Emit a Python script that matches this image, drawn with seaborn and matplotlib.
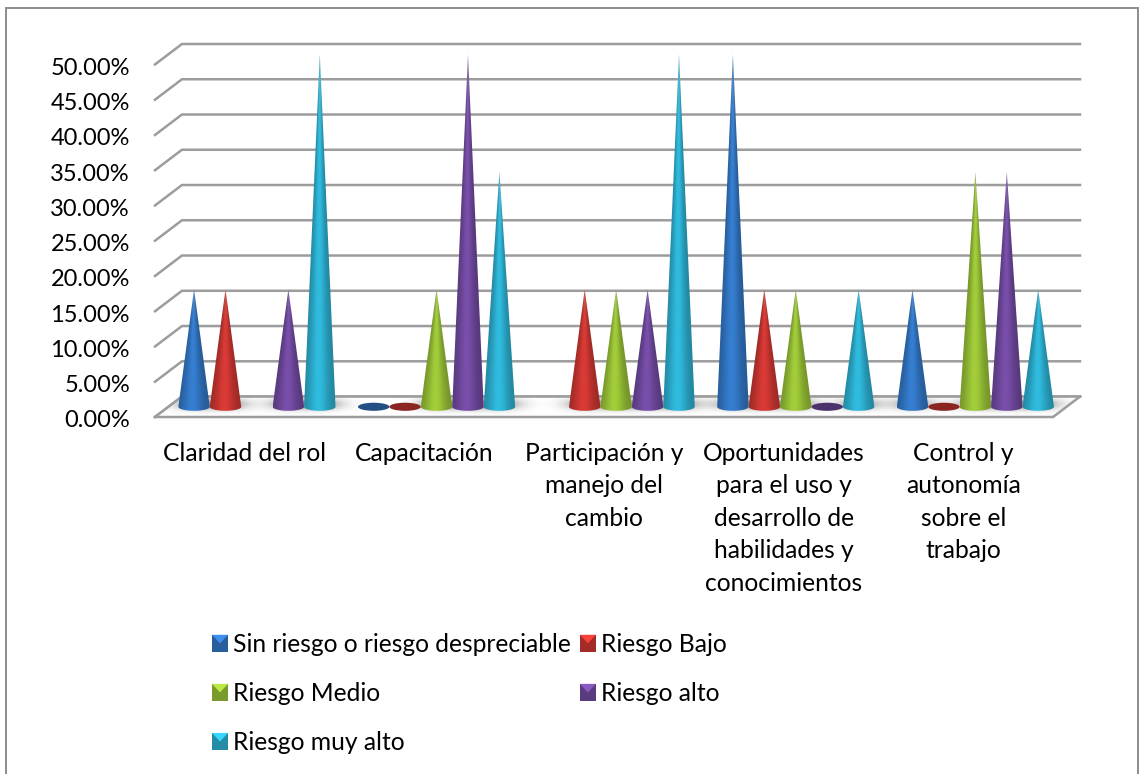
import numpy as np
import pandas as pd
import matplotlib
matplotlib.use("Agg")
import matplotlib.pyplot as plt
import seaborn as sns
from matplotlib.legend_handler import HandlerBase
from matplotlib.patches import Ellipse, Polygon, Rectangle
from matplotlib.transforms import ScaledTranslation

categories = [
    "Claridad del rol",
    "Capacitación",
    "Participación y\nmanejo del\ncambio",
    "Oportunidades\npara el uso y\ndesarrollo de\nhabilidades y\nconocimientos",
    "Control y\nautonomía\nsobre el\ntrabajo",
]
series_names = [
    "Sin riesgo o riesgo despreciable",
    "Riesgo Bajo",
    "Riesgo Medio",
    "Riesgo alto",
    "Riesgo muy alto",
]
sin_riesgo = [16.67, 0, np.nan, 50, 16.67]
riesgo_bajo = [16.67, 0, 16.67, 16.67, 0]
riesgo_medio = [np.nan, 16.67, 16.67, 16.67, 33.33]
riesgo_alto = [16.67, 50, 16.67, 0, 33.33]
riesgo_muy_alto = [50, 33.33, 50, 16.67, 16.67]
colors = ["#2f6fb8", "#c0332f", "#8fb533", "#6a4596", "#2aa5c4"]

DEPTH_X = 0.15
DEPTH_Y = 2.9
GRID = "#9c9c9c"

plt.rcParams["font.family"] = ["Lato", "DejaVu Sans"]

df = pd.DataFrame({
    "categoria": np.repeat(categories, 5),
    "serie": [s for _ in categories for s in series_names],
    "valor": np.array([sin_riesgo, riesgo_bajo, riesgo_medio, riesgo_alto, riesgo_muy_alto]).T.ravel(),
})

fig = plt.figure(figsize=(11.39, 7.74), dpi=100)
ax = fig.add_axes([155 / 1139, 1 - 417 / 774, (1080 - 155) / 1139, (417 - 44) / 774])
sns.barplot(data=df, x="categoria", y="valor", hue="serie", order=categories,
            hue_order=series_names, width=0.875, gap=0, palette=colors,
            legend=False, errorbar=None, ax=ax)

bars = []
for color, container in zip(colors, ax.containers):
    for bar in container:
        if not np.isnan(bar.get_height()):
            bars.append((bar.get_x() + bar.get_width() / 2, bar.get_width() / 2, bar.get_height(), color))
        bar.set_visible(False)

x0, x1 = -0.5, 4.5
ax.set_xlim(x0, x1 + DEPTH_X)
ax.set_ylim(0, 50 + DEPTH_Y)
sns.despine(ax=ax, left=True, bottom=True)
ax.set_xlabel("")
ax.set_ylabel("")
ax.set_yticks(np.arange(0, 51, 5))
ax.set_yticklabels([f"{t:.2f}%" for t in np.arange(0, 51, 5)])
ax.set_xticks(range(len(categories)))
ax.set_xticklabels(categories, linespacing=1.5)
ax.tick_params(axis="y", length=0, pad=18, labelsize=17)
ax.tick_params(axis="x", length=0, pad=18, labelsize=17.7)
for lab in ax.get_yticklabels():
    lab.set_transform(lab.get_transform() + ScaledTranslation(0, -2 / 100, fig.dpi_scale_trans))

# back wall and side grid lines
for t in np.arange(0, 51, 5):
    ax.plot([x0, x0 + DEPTH_X, x1 + DEPTH_X], [t, t + DEPTH_Y, t + DEPTH_Y],
            color=GRID, lw=1.8, clip_on=False, zorder=1, solid_joinstyle="miter")

# floor with the soft shadow of the cones
fx = np.linspace(x0, x1 + DEPTH_X, 900)
fy = np.linspace(0, DEPTH_Y, 40)
gx, gy = np.meshgrid(fx, fy)
shade = np.zeros_like(gx)
for xc, half, h, _ in bars:
    if h > 0:
        shade += np.exp(-((gx - xc - DEPTH_X / 2) / 0.12) ** 2 - ((gy - DEPTH_Y * 0.62) / 0.8) ** 2)
shade = np.clip(shade, 0, 1) * 0.36
floor_img = ax.imshow(1 - shade, extent=(fx[0], fx[-1], 0, DEPTH_Y), origin="lower", cmap="gray",
                      vmin=0, vmax=1, aspect="auto", zorder=2, interpolation="bilinear")
floor = Polygon([(x0, 0), (x1, 0), (x1 + DEPTH_X, DEPTH_Y), (x0 + DEPTH_X, DEPTH_Y)],
                transform=ax.transData, fc="none", ec="none")
ax.add_patch(floor)
floor_img.set_clip_path(floor)
ax.plot([x0, x1, x1 + DEPTH_X], [0, 0, DEPTH_Y], color=GRID, lw=1.8, clip_on=False, zorder=3,
        solid_joinstyle="miter")
ax.plot([x0, x0 + DEPTH_X, x1 + DEPTH_X], [0, DEPTH_Y, DEPTH_Y], color=GRID, lw=1.8, clip_on=False, zorder=3,
        solid_joinstyle="miter")


def draw_cone(xc, half, h, color, z):
    xc = xc + DEPTH_X * 0.45
    base = DEPTH_Y / 2
    rgb = np.array(matplotlib.colors.to_rgb(color))
    if h == 0:
        ax.add_patch(Ellipse((xc, base), 2 * half, 1.15, fc=rgb * 0.72, ec="none", zorder=z))
        return
    bottom = base - 0.57
    top = base + h
    xs = np.linspace(xc - half, xc + half, 60)
    ys = np.linspace(bottom, top, 240)
    gx, gy = np.meshgrid(xs, ys)
    widths = np.clip(half * (top - gy) / h, half * 0.004, half)
    u = (gx - xc) / widths
    # dark rim, brighter left of centre, a bit lighter towards the tip
    light = 0.8 + 0.34 * np.exp(-((u + 0.1) / 0.65) ** 2)
    tip = np.clip((gy - base) / h, 0, 1)
    img = np.clip(rgb[None, None, :] * light[..., None], 0, 1)
    img = img + (1 - img) * (0.3 * tip[..., None] ** 10)
    im = ax.imshow(img, extent=(xs[0], xs[-1], bottom, top), origin="lower", aspect="auto",
                   zorder=z, interpolation="bilinear")
    t = np.linspace(np.pi, 2 * np.pi, 30)
    outline = [(xc, top)] + list(zip(xc + half * np.cos(t), base + 0.57 * np.sin(t)))
    clip = Polygon(outline, closed=True, transform=ax.transData, fc="none", ec="none")
    ax.add_patch(clip)
    im.set_clip_path(clip)


for i, (xc, half, h, color) in enumerate(sorted(bars, key=lambda b: b[0])):
    draw_cone(xc, half, h, color, 4 + i * 0.01)

ax.set_xlim(x0, x1 + DEPTH_X)
ax.set_ylim(0, 50 + DEPTH_Y)


class BevelHandler(HandlerBase):
    def create_artists(self, legend, orig, xd, yd, w, h, fontsize, trans):
        rgb = np.array(matplotlib.colors.to_rgb(orig.get_facecolor()))
        l, b, r, t = -xd, -yd, -xd + w, -yd + h
        cx, cy = (l + r) / 2, (b + t) / 2
        faces = [
            ([(l, b), (r, b), (r, t), (l, t)], rgb * 0.85),
            ([(l, t), (r, t), (cx, cy)], np.clip(rgb * 1.3, 0, 1)),
        ]
        return [Polygon(p, fc=c, ec="none", transform=trans) for p, c in faces]


handles = [Rectangle((0, 0), 1, 1, fc=c) for c in colors]
order = [0, 2, 4, 1, 3]
leg = fig.legend([handles[i] for i in order], [series_names[i] for i in order], ncol=2,
                 loc="upper left", bbox_to_anchor=(212 / 1139, 1 - 633 / 774), borderaxespad=0, borderpad=0,
                 frameon=False, fontsize=17.7, handlelength=0.65, handleheight=0.7, handletextpad=0.2,
                 columnspacing=0.37, labelspacing=1.06,
                 handler_map={Rectangle: BevelHandler()})

# chart area frame
fig.add_artist(Rectangle((6 / 1139, -0.01), (1137.5 - 6) / 1139, 1.01 - 8 / 774, fill=False, ec="#8c8c8c",
                         lw=1.4, transform=fig.transFigure))

fig.savefig("out.png", dpi=100)
